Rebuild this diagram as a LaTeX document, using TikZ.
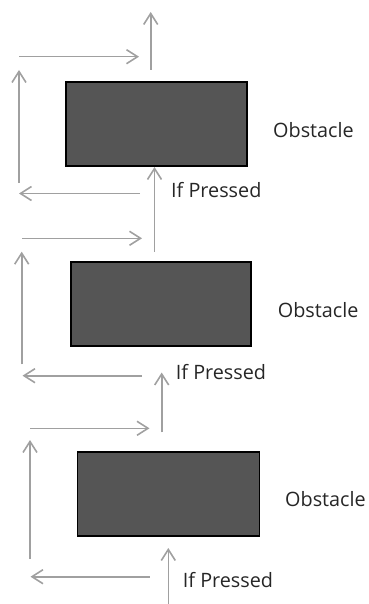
\documentclass[tikz,border=0pt]{standalone}
\usepackage{fontspec}
\setmainfont{Open Sans}
\usetikzlibrary{arrows.meta}
\definecolor{flow}{RGB}{160,160,160}
\definecolor{obst}{RGB}{85,85,85}
\begin{document}
\begin{tikzpicture}[x=1pt,y=-1pt,
  flowarrow/.style={draw=flow,line width=1.6pt,-{Straight Barb[length=11pt,width=14pt,line width=1.6pt]}},
  obstacle/.style={draw=black,fill=obst,line width=1.3pt,inner sep=0pt,outer sep=0pt},
  lbl/.style={font=\fontsize{19.8}{23}\selectfont,inner sep=0pt,anchor=west,text=black!85}]
\useasboundingbox (0,0) rectangle (368,604);
% ---------- block 1 ----------
\node[obstacle,minimum width=181pt,minimum height=84pt] (r1) at (156.5,124) {};
\node[lbl] (o1) at (273,130) {Obstacle};
\node[lbl] (p1) at (171,190) {If Pressed};
\coordinate (t1a) at (150.7,70);  \coordinate (t1b) at (150.7,12);
\coordinate (h1a) at (19,56.7);   \coordinate (h1b) at (139,56.7);
\coordinate (v1a) at (19,183);    \coordinate (v1b) at (19,70);
\coordinate (l1a) at (140,193.5); \coordinate (l1b) at (19,193.5);
\draw[flowarrow] (t1a) -- (t1b);
\draw[flowarrow] (h1a) -- (h1b);
\draw[flowarrow] (v1a) -- (v1b);
\draw[flowarrow] (l1a) -- (l1b);
% ---------- block 2 ----------
\node[obstacle,minimum width=180pt,minimum height=84pt] (r2) at (161,304) {};
\node[lbl] (o2) at (277.7,310) {Obstacle};
\node[lbl] (p2) at (175.7,372) {If Pressed};
\coordinate (t2a) at (154.5,252); \coordinate (t2b) at (154.5,167);
\coordinate (h2a) at (22.3,238.3); \coordinate (h2b) at (142,238.3);
\coordinate (v2a) at (21.7,364.3); \coordinate (v2b) at (21.7,251.7);
\coordinate (l2a) at (142,375.7); \coordinate (l2b) at (22.5,375.7);
\draw[flowarrow] (t2a) -- (t2b);
\draw[flowarrow] (h2a) -- (h2b);
\draw[flowarrow] (v2a) -- (v2b);
\draw[flowarrow] (l2a) -- (l2b);
% ---------- block 3 ----------
\node[obstacle,minimum width=182pt,minimum height=84pt] (r3) at (168.3,494) {};
\node[lbl] (o3) at (285,499.3) {Obstacle};
\node[lbl] (p3) at (182.7,580) {If Pressed};
\coordinate (t3a) at (161.7,432.3); \coordinate (t3b) at (161.7,372.5);
\coordinate (h3a) at (30,428.3);  \coordinate (h3b) at (149.5,428.3);
\coordinate (v3a) at (30,559);    \coordinate (v3b) at (30,440);
\coordinate (l3a) at (149.5,576.7); \coordinate (l3b) at (30.5,576.7);
\coordinate (b3a) at (168.3,604); \coordinate (b3b) at (168.3,548);
\draw[flowarrow] (t3a) -- (t3b);
\draw[flowarrow] (h3a) -- (h3b);
\draw[flowarrow] (v3a) -- (v3b);
\draw[flowarrow] (l3a) -- (l3b);
\draw[flowarrow] (b3a) -- (b3b);
\end{tikzpicture}
\end{document}
